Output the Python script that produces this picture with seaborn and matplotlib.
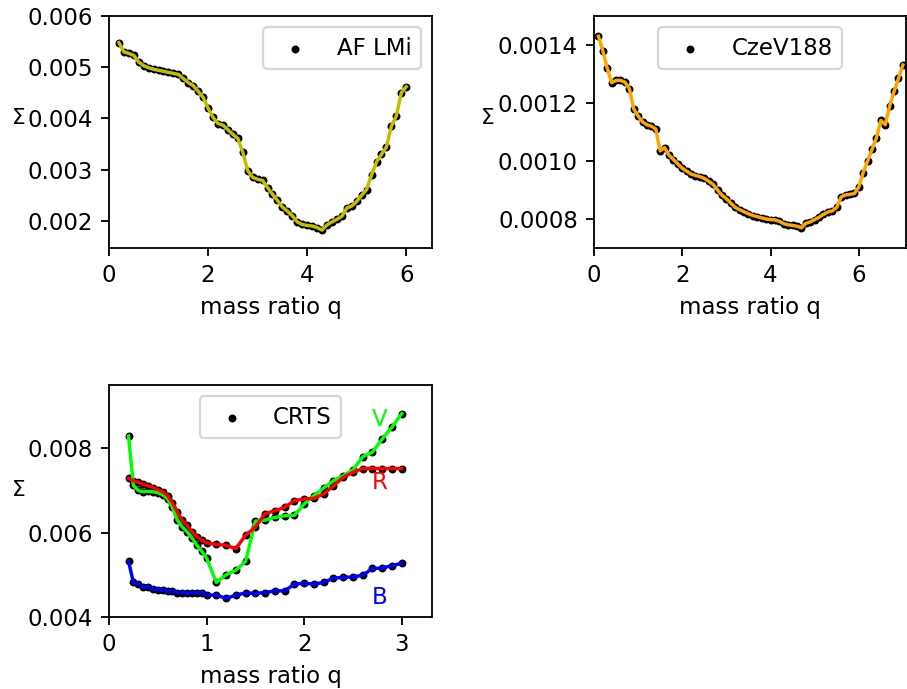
import matplotlib
matplotlib.use("Agg")
import matplotlib.pyplot as plt
import seaborn as sns
import pandas as pd

# AF LMi
q_af = [0.2, 0.3, 0.4, 0.5, 0.6, 0.7, 0.8, 0.9, 1.0, 1.1, 1.2, 1.3, 1.4, 1.5, 1.6,
        1.7, 1.8, 1.9, 2.0, 2.1, 2.2, 2.3, 2.4, 2.5, 2.6, 2.7, 2.8, 2.9, 3.0, 3.1,
        3.2, 3.3, 3.4, 3.5, 3.6, 3.7, 3.8, 3.9, 4.0, 4.1, 4.2, 4.3, 4.4, 4.5, 4.6,
        4.7, 4.8, 4.9, 5.0, 5.1, 5.2, 5.3, 5.4, 5.5, 5.6, 5.7, 5.8, 5.9, 6.0]
s_af = [0.00548, 0.00530, 0.00527, 0.00523, 0.00510, 0.00503, 0.00499, 0.00496,
        0.00494, 0.00492, 0.00490, 0.00488, 0.00486, 0.00478, 0.00470, 0.00464,
        0.00453, 0.00441, 0.00420, 0.00402, 0.00390, 0.00387, 0.00378, 0.00369,
        0.00361, 0.00334, 0.00298, 0.00285, 0.00281, 0.00279, 0.00265, 0.00252,
        0.00240, 0.00227, 0.00219, 0.00210, 0.00198, 0.00193, 0.00191, 0.00190,
        0.00187, 0.00182, 0.00192, 0.00198, 0.00203, 0.00209, 0.00225, 0.00229,
        0.00238, 0.00250, 0.00261, 0.00290, 0.00315, 0.00330, 0.00344, 0.00385,
        0.00405, 0.00450, 0.00462]

# CzeV188
q_cz = [0.1, 0.2, 0.3, 0.4, 0.5, 0.6, 0.7, 0.8, 0.9, 1.0, 1.1, 1.2, 1.3, 1.4, 1.5,
        1.6, 1.7, 1.8, 1.9, 2.0, 2.1, 2.2, 2.3, 2.4, 2.5, 2.6, 2.7, 2.8, 2.9, 3.0,
        3.1, 3.2, 3.3, 3.4, 3.5, 3.6, 3.7, 3.8, 3.9, 4.0, 4.1, 4.2, 4.3, 4.4, 4.5,
        4.6, 4.7, 4.8, 4.9, 5.0, 5.1, 5.2, 5.3, 5.4, 5.5, 5.6, 5.7, 5.8, 5.9, 6.0,
        6.1, 6.2, 6.3, 6.4, 6.5, 6.6, 6.7, 6.8, 6.9, 7.0]
s_cz = [0.001430, 0.001380, 0.001320, 0.001270, 0.001278, 0.001278, 0.001272,
        0.001250, 0.001180, 0.001155, 0.001135, 0.001125, 0.001120, 0.001110,
        0.001035, 0.001046, 0.001020, 0.001005, 0.000990, 0.000975, 0.000965,
        0.000955, 0.000950, 0.000946, 0.000940, 0.000930, 0.000919, 0.000900,
        0.000882, 0.000870, 0.000855, 0.000840, 0.000832, 0.000825, 0.000818,
        0.000812, 0.000808, 0.000804, 0.000800, 0.000798, 0.000797, 0.000792,
        0.000784, 0.000780, 0.000778, 0.000775, 0.000770, 0.000785, 0.000790,
        0.000798, 0.000806, 0.000816, 0.000824, 0.000828, 0.000840, 0.000876,
        0.000883, 0.000885, 0.000888, 0.000910, 0.000960, 0.001000, 0.001040,
        0.001080, 0.001140, 0.001125, 0.001190, 0.001240, 0.001285, 0.001331]

# CRTS, three filters
q_crts = [0.2, 0.25, 0.3, 0.35, 0.4, 0.45, 0.5, 0.55, 0.6, 0.65, 0.7, 0.75, 0.8,
          0.85, 0.9, 0.95, 1.0, 1.1, 1.2, 1.3, 1.4, 1.5, 1.6, 1.7, 1.8, 1.9, 2.0,
          2.1, 2.2, 2.3, 2.4, 2.5, 2.6, 2.7, 2.8, 2.9, 3.0]
s_V = [0.00829, 0.00712, 0.00700, 0.00697, 0.00698, 0.00697, 0.00695, 0.00690,
       0.00680, 0.00660, 0.00630, 0.00614, 0.00602, 0.00588, 0.00570, 0.00556,
       0.00540, 0.00482, 0.00500, 0.00511, 0.00532, 0.00627, 0.00630, 0.00636,
       0.00640, 0.00641, 0.00668, 0.00688, 0.00706, 0.00723, 0.00735, 0.00749,
       0.00780, 0.00791, 0.00822, 0.00850, 0.00882]
s_R = [0.00729, 0.00723, 0.00719, 0.00715, 0.00711, 0.00707, 0.00702, 0.00697,
       0.00688, 0.00671, 0.00649, 0.00629, 0.00617, 0.00602, 0.00590, 0.00582,
       0.00576, 0.00572, 0.00570, 0.00562, 0.00594, 0.00613, 0.00645, 0.00652,
       0.00660, 0.00676, 0.00680, 0.00681, 0.00692, 0.00711, 0.00731, 0.00743,
       0.00752, 0.00752, 0.00752, 0.00752, 0.00752]
s_B = [0.00532, 0.00482, 0.00478, 0.00470, 0.00472, 0.00466, 0.00465, 0.00464,
       0.00461, 0.00461, 0.00458, 0.00458, 0.00456, 0.00458, 0.00458, 0.00458,
       0.00452, 0.00452, 0.00444, 0.00452, 0.00457, 0.00456, 0.00458, 0.00462,
       0.00462, 0.00478, 0.00480, 0.00478, 0.00482, 0.00492, 0.00494, 0.00495,
       0.00499, 0.00515, 0.00516, 0.00522, 0.00527]

W, H, DPI = 907, 689, 165
fig = plt.figure(figsize=(W / DPI, H / DPI), dpi=DPI)


def box(x0, x1, y0, y1):
    # pixel box -> figure fraction
    return [x0 / W, 1 - y1 / H, (x1 - x0) / W, (y1 - y0) / H]


ax1 = fig.add_axes(box(109, 432, 16, 248))
ax2 = fig.add_axes(box(594, 906, 16, 248))
ax3 = fig.add_axes(box(109, 432, 385, 617))

dot_kw = dict(color="black", s=12, linewidth=0, zorder=2)

sns.scatterplot(x=q_af, y=s_af, ax=ax1, label="AF LMi", **dot_kw)
sns.lineplot(x=q_af, y=s_af, ax=ax1, color="y", lw=1.5, zorder=3)
ax1.set_xlim(0, 6.52)
ax1.set_ylim(0.00147, 0.006)
ax1.set_yticks([0.002, 0.003, 0.004, 0.005, 0.006])
ax1.legend(loc="upper right")

sns.scatterplot(x=q_cz, y=s_cz, ax=ax2, label="CzeV188", **dot_kw)
sns.lineplot(x=q_cz, y=s_cz, ax=ax2, color="orange", lw=1.5, zorder=3)
ax2.set_xlim(0, 7.07)
ax2.set_ylim(0.0007, 0.0015)
ax2.set_yticks([0.0008, 0.0010, 0.0012, 0.0014])
ax2.legend(loc="upper center")

crts = pd.DataFrame({"q": q_crts * 3, "S": s_V + s_R + s_B,
                     "band": ["V"] * len(q_crts) + ["R"] * len(q_crts) + ["B"] * len(q_crts)})
sns.scatterplot(data=crts, x="q", y="S", ax=ax3, label="CRTS", **dot_kw)
sns.lineplot(data=crts, x="q", y="S", hue="band", ax=ax3, lw=1.5, zorder=3,
             palette={"V": "lime", "R": "red", "B": "blue"}, legend=False)
ax3.set_xlim(0, 3.31)
ax3.set_ylim(0.004, 0.0095)
ax3.set_yticks([0.004, 0.006, 0.008])
ax3.legend(loc="upper center")
ax3.text(2.77, 0.00868, "V", color="lime", fontsize=10, ha="center", va="center")
ax3.text(2.77, 0.00718, "R", color="red", fontsize=10, ha="center", va="center")
ax3.text(2.77, 0.00447, "B", color="blue", fontsize=10, ha="center", va="center")

for ax, lx, ly in ((ax1, -0.28, 0.56), (ax2, -0.34, 0.56), (ax3, -0.28, 0.547)):
    ax.set_xlabel("mass ratio q")
    ax.set_ylabel("Σ", fontsize=9.5, rotation=0, ha="center", va="center")
    ax.yaxis.set_label_coords(lx, ly)

fig.savefig("out.png", dpi=DPI)
